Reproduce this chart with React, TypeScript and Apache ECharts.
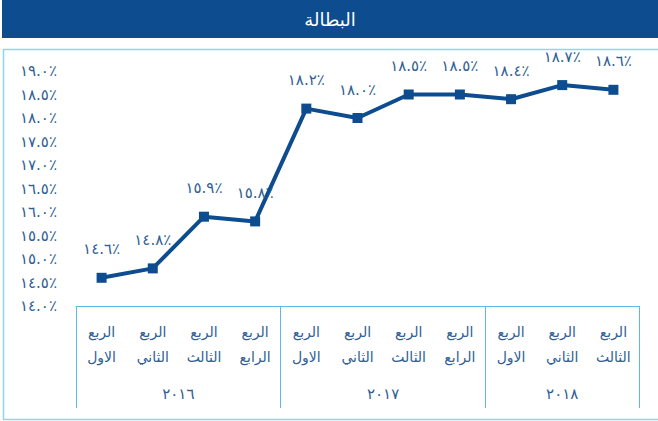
import React, { useEffect, useRef } from "react";
import * as echarts from "echarts";

const titleText = "البطالة";
const quarterNames = ["الاول", "الثاني", "الثالث", "الرابع"];
const years = ["2016", "2017", "2018"];
const quartersPerYear = [4, 4, 3];
const unemployment = [14.6, 14.8, 15.9, 15.8, 18.2, 18.0, 18.5, 18.5, 18.4, 18.7, 18.6];
const yMin = 14;
const yMax = 19;
const yStep = 0.5;

const arabicDigits = "٠١٢٣٤٥٦٧٨٩";
const toArabic = (s: string) => s.replace(/[0-9]/g, (d) => arabicDigits[Number(d)]);
const pct = (v: number) => toArabic(v.toFixed(1)) + "٪";

const BLUE = "#0D4C8E";
const TEXT = "#2F5E94";
const LINE = "#5DB9E6";
const FONT = "DejaVu Sans";

export default function App() {
  const ref = useRef<HTMLDivElement>(null);
  useEffect(() => {
    if (!ref.current) return;
    const chart = echarts.init(ref.current, undefined, { renderer: "svg" });

    const quarterCats: string[] = [];
    quartersPerYear.forEach((n) => {
      for (let i = 0; i < n; i++) quarterCats.push("الربع\n" + quarterNames[i]);
    });
    const total = quarterCats.length;
    const halfSlots: string[] = [];
    const labelIdx: Record<number, string> = {};
    const tickIdx: number[] = [0];
    let start = 0;
    quartersPerYear.forEach((n, yi) => {
      labelIdx[start + n] = toArabic(years[yi]);
      start += 2 * n;
      tickIdx.push(start);
    });
    for (let i = 0; i <= total * 2; i++) halfSlots.push(labelIdx[i] ?? "");

    chart.setOption({
      animation: false,
      graphic: [
        { type: "rect", shape: { x: 2, y: 0, width: 656, height: 38 }, style: { fill: BLUE } },
        {
          type: "text",
          x: 330,
          y: 19,
          style: { text: titleText, fill: "#fff", font: `18px "${FONT}"`, align: "center", verticalAlign: "middle" },
        },
        {
          type: "rect",
          shape: { x: 3.5, y: 49.5, width: 660, height: 370 },
          style: { fill: "none", stroke: "#8DD5F3", lineWidth: 1.5 },
        },
      ],
      grid: { left: 76, right: 19, top: 71, bottom: 115, containLabel: false },
      xAxis: [
        {
          type: "category",
          data: quarterCats,
          boundaryGap: true,
          axisLine: { show: true, lineStyle: { color: LINE, width: 1 } },
          axisTick: { show: false },
          axisLabel: { color: TEXT, fontFamily: FONT, fontSize: 14, lineHeight: 25, margin: 13, interval: 0 },
        },
        {
          type: "category",
          data: halfSlots,
          boundaryGap: false,
          position: "bottom",
          axisLine: { show: false },
          axisTick: {
            show: true,
            length: 102,
            interval: (i: number) => tickIdx.includes(i),
            lineStyle: { color: LINE, width: 1 },
          },
          axisLabel: {
            color: TEXT,
            fontFamily: FONT,
            fontSize: 15,
            margin: 80,
            interval: (i: number, v: string) => v !== "",
          },
        },
      ],
      yAxis: {
        type: "value",
        min: yMin,
        max: yMax,
        interval: yStep,
        axisLine: { show: false },
        axisTick: { show: false },
        splitLine: { show: false },
        axisLabel: {
          color: TEXT,
          fontFamily: FONT,
          fontSize: 15,
          margin: 19,
          padding: [0, 0, 3, 0],
          formatter: (v: number) => pct(v),
        },
      },
      series: [
        {
          type: "line",
          xAxisIndex: 0,
          data: unemployment,
          symbol: "rect",
          symbolSize: 10,
          itemStyle: { color: BLUE },
          lineStyle: { color: BLUE, width: 4 },
          label: {
            show: true,
            position: "top",
            distance: 16,
            color: TEXT,
            fontFamily: FONT,
            fontSize: 15,
            formatter: (p: any) => pct(p.value),
          },
        },
      ],
    });
    return () => chart.dispose();
  }, []);
  return (
    <div style={{ position: "fixed", left: 0, top: 0, width: 658, height: 421, background: "#fff" }}>
      <div ref={ref} style={{ width: 658, height: 421 }} />
    </div>
  );
}
